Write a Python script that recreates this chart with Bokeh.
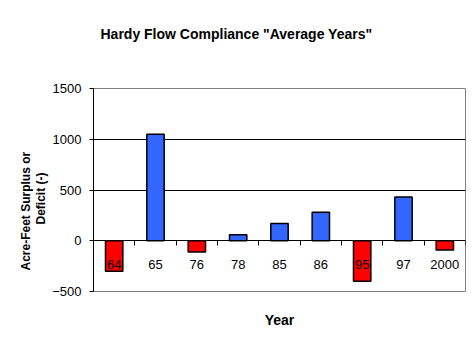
from bokeh.plotting import figure
from bokeh.models import ColumnDataSource, Range1d, LinearAxis, FixedTicker, Grid, Title
from bokeh.embed import file_html
from bokeh.resources import INLINE

years = ["64", "65", "76", "78", "85", "86", "95", "97", "2000"]
values = [-300, 1050, -110, 60, 170, 280, -400, 430, -90]
y_ticks = [-500, 0, 500, 1000, 1500]
grid_ticks = [500, 1000]
title_text = 'Hardy Flow Compliance "Average Years"'
x_title = "Year"
y_title_lines = ["Acre-Feet Surplus or", "Deficit (-)"]

BLUE = "#3366FF"
RED = "#FF0000"
FONT = "Liberation Sans"

xs = [i + 0.5 for i in range(len(years))]
colors = [BLUE if v >= 0 else RED for v in values]
src = ColumnDataSource(dict(x=xs, v=values, c=colors))

p = figure(width=468, height=348, output_backend="svg", toolbar_location=None,
           x_range=Range1d(0, len(years)), y_range=Range1d(y_ticks[0], y_ticks[-1]),
           min_border_left=93, min_border_right=3, min_border_top=88, min_border_bottom=57,
           x_axis_location=None, y_axis_location=None)
p.center = []
p.background_fill_color = "white"
p.border_fill_color = "white"
p.outline_line_color = "#808080"
p.outline_line_width = 1

# spacer between frame and title, then the chart title (outermost)
p.add_layout(Title(text=" ", text_font_size="1px", standoff=22), "above")
p.add_layout(Title(text=title_text, align="left", vertical_align="top", offset=7,
                   standoff=40, text_font=FONT, text_font_size="14px",
                   text_font_style="bold", text_color="black"), "above")

p.add_layout(Grid(dimension=1, ticker=FixedTicker(ticks=grid_ticks),
                  grid_line_color="black", grid_line_width=1))

p.vbar(x="x", top="v", bottom=0, width=0.42, source=src,
       fill_color="c", line_color="black", line_width=1.5)

yax = LinearAxis(ticker=FixedTicker(ticks=y_ticks),
                 major_label_text_font=FONT, major_label_text_font_size="13px",
                 major_label_text_color="black",
                 major_tick_out=4, major_tick_in=0, minor_tick_out=0, minor_tick_in=0,
                 major_label_standoff=8, axis_line_color="black",
                 major_tick_line_color="black")
p.add_layout(yax, "left")

# y-axis title, two lines, as side titles (nearest line first)
p.add_layout(Title(text=y_title_lines[1], align="left", offset=67, standoff=4,
                   text_font=FONT, text_font_size="12px", text_font_style="bold",
                   text_color="black"), "left")
p.add_layout(Title(text=y_title_lines[0], align="left", offset=21, standoff=-7,
                   text_font=FONT, text_font_size="12px", text_font_style="bold",
                   text_color="black"), "left")

xax = LinearAxis(fixed_location=0,
                 ticker=FixedTicker(ticks=xs, minor_ticks=list(range(1, len(years) + 1))),
                 major_label_overrides={x: y for x, y in zip(xs, years)},
                 major_tick_out=0, major_tick_in=0, minor_tick_out=5, minor_tick_in=0,
                 major_label_standoff=14, axis_line_color="black",
                 minor_tick_line_color="black",
                 major_label_text_font=FONT, major_label_text_font_size="13px",
                 major_label_text_color="black")
p.add_layout(xax, "below")

xlab = LinearAxis(ticker=FixedTicker(ticks=[]), axis_line_color=None,
                  major_tick_line_color=None, minor_tick_line_color=None,
                  major_label_text_font_size="0px", axis_label=x_title,
                  axis_label_text_font=FONT, axis_label_text_font_size="14px",
                  axis_label_text_font_style="bold", axis_label_text_color="black",
                  axis_label_standoff=20)
p.add_layout(xlab, "below")

open("out.html", "w").write(file_html(p, INLINE))
